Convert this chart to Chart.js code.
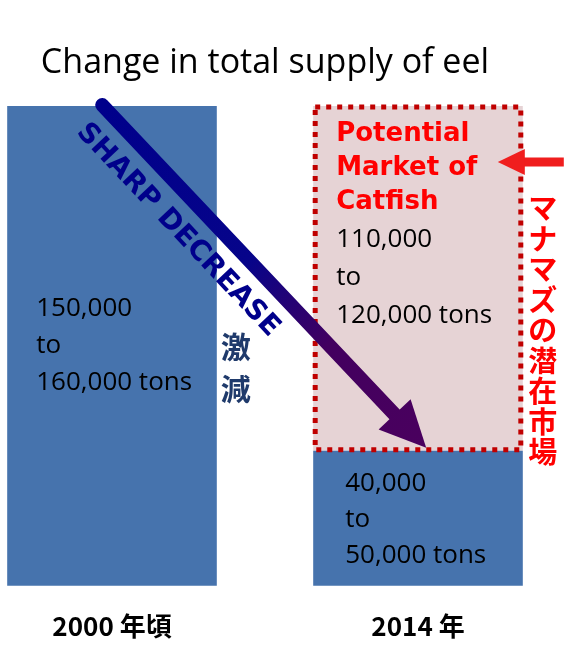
<!DOCTYPE html>
<html>
<head>
<meta charset="utf-8">
<script src="https://cdn.jsdelivr.net/npm/chart.js@4.4.1/dist/chart.umd.min.js"></script>
<style>
  html, body { margin: 0; padding: 0; background: #fff; }
  #wrap { width: 580px; height: 672px; }
</style>
</head>
<body>
<div id="wrap"><canvas id="myChart"></canvas></div>
<script>
// data
const chartTitle = 'Change in total supply of eel';
const years = ['2000 年頃', '2014 年'];
const eelSupply = [160000, 45000];
const catfishMarket = [null, 115000];
const eelText = [['150,000', 'to', '160,000 tons'], ['40,000', 'to', '50,000 tons']];
const catfishTitle = ['Potential', 'Market of', 'Catfish'];
const catfishText = ['110,000', 'to', '120,000 tons'];
const arrowText = 'SHARP DECREASE';
const arrowTextJa = ['激', '減'];
const sideTextJa = 'マナマズの潜在市場';

//PLUGIN PARA DIBUJAR EL TITULO, LAS NOTAS, FLECHAS Y EL BORDE PUNTEADO
const notes = {
  id: 'notes',
  afterDatasetsDraw(chart) {
    const c = chart.ctx;
    const eel = chart.getDatasetMeta(0).data;
    const cat = chart.getDatasetMeta(1).data[1];
    const b0 = eel[0], b1 = eel[1];
    const L0 = b0.x - b0.width / 2, R0 = b0.x + b0.width / 2;
    const L1 = b1.x - b1.width / 2, R1 = b1.x + b1.width / 2;

    c.save();
    // title
    c.fillStyle = '#000';
    c.font = '34px "Open Sans"';
    c.textAlign = 'center';
    c.textBaseline = 'alphabetic';
    c.fillText(chartTitle, (L0 + R1) / 2, b0.y - 33);

    // dotted border round the catfish box
    c.strokeStyle = '#C00000';
    c.lineWidth = 5;
    c.setLineDash([5, 6]);
    c.strokeRect(L1 + 2, cat.y + 1, b1.width - 4, cat.base - cat.y - 2);
    c.setLineDash([]);

    // numbers in bars
    c.fillStyle = '#000';
    c.font = '26px "Open Sans"';
    c.textAlign = 'left';
    eelText[0].forEach((t, i) => c.fillText(t, L0 + 29, b0.y + 210 + i * 37));
    eelText[1].forEach((t, i) => c.fillText(t, L1 + 32, b1.y + 40 + i * 36));
    catfishText.forEach((t, i) => c.fillText(t, L1 + 23, cat.y + 141 + i * 38));
    c.fillStyle = '#FF0000';
    c.font = 'bold 26px "DejaVu Sans"';
    catfishTitle.forEach((t, i) => c.fillText(t, L1 + 23, cat.y + 35 + i * 34));

    // big arrow
    const sx = L0 + 95, sy = b0.y - 1;
    const tx = L1 + 113, ty = b1.y - 3;
    const len = Math.hypot(tx - sx, ty - sy);
    const dx = (tx - sx) / len, dy = (ty - sy) / len;
    const head = 46, half = 22;
    const g = c.createLinearGradient(sx, sy, tx, ty);
    g.addColorStop(0, '#00008B');
    g.addColorStop(0.45, '#06048A');
    g.addColorStop(0.7, '#42005F');
    g.addColorStop(1, '#4A005E');
    c.strokeStyle = g;
    c.fillStyle = g;
    c.lineWidth = 14;
    c.lineCap = 'round';
    c.beginPath();
    c.moveTo(sx, sy);
    c.lineTo(tx - dx * head * 0.8, ty - dy * head * 0.8);
    c.stroke();
    const bx = tx - dx * head, by = ty - dy * head;
    c.beginPath();
    c.moveTo(tx, ty);
    c.lineTo(bx - dy * half, by + dx * half);
    c.lineTo(bx + dy * half, by - dx * half);
    c.closePath();
    c.fill();

    // SHARP DECREASE along the arrow
    c.save();
    c.translate(sx + dx * 143 - dy * 31, sy + dy * 143 + dx * 31);
    c.rotate(Math.atan2(dy, dx));
    c.fillStyle = '#00008B';
    c.font = 'bold 28px "DejaVu Sans"';
    c.textAlign = 'center';
    c.textBaseline = 'middle';
    c.fillText(arrowText, 0, 0);
    c.restore();

    // 激減
    c.fillStyle = '#1F3A6B';
    c.font = 'bold 30px "Noto Sans CJK JP"';
    c.textAlign = 'center';
    c.textBaseline = 'middle';
    arrowTextJa.forEach((t, i) => c.fillText(t, R0 + 19, b0.y + 241 + i * 42));

    // red arrow and side text
    const ay = cat.y + 56;
    c.strokeStyle = '#F01E1E';
    c.fillStyle = '#F01E1E';
    c.lineWidth = 9;
    c.lineCap = 'butt';
    c.beginPath();
    c.moveTo(R1 + 41, ay);
    c.lineTo(R1 - 2, ay);
    c.stroke();
    c.beginPath();
    c.moveTo(R1 - 25, ay);
    c.lineTo(R1 + 2, ay - 13);
    c.lineTo(R1 + 2, ay + 13);
    c.closePath();
    c.fill();

    c.fillStyle = '#FF0000';
    c.font = 'bold 29px "Noto Sans CJK JP"';
    [...sideTextJa].forEach((ch, i) => c.fillText(ch, R1 + 20, cat.y + 102 + i * 30.5));
    c.restore();
  }
};

const ctx = document.getElementById('myChart');

new Chart(ctx, {
  type: 'bar',
  data: {
    labels: years,
    datasets: [{
      label: 'Eel supply',
      data: eelSupply,
      backgroundColor: '#4673AD',
      borderWidth: 0,
      categoryPercentage: 1,
      barPercentage: 0.685,
      clip: false
    }, {
      label: 'Potential market of catfish',
      data: catfishMarket,
      backgroundColor: '#E6D3D5',
      borderWidth: 0,
      categoryPercentage: 1,
      barPercentage: 0.685,
      clip: false
    }]
  },
  options: {
    responsive: true,
    maintainAspectRatio: false,
    animation: false,
    layout: { padding: { left: 112, right: 162, top: 106, bottom: 13 } },
    plugins: {
      legend: { display: false },
      tooltip: { enabled: false },
      title: { display: false }
    },
    scales: {
      x: {
        stacked: true,
        offset: false,
        grid: { display: false },
        border: { display: false },
        ticks: {
          color: '#000',
          padding: 17,
          maxRotation: 0,
          font: { family: '"Noto Sans CJK JP"', size: 26, weight: 'bold' }
        }
      },
      y: {
        stacked: true,
        display: false,
        min: 0,
        max: 160000
      }
    }
  },
  plugins: [notes]
});
</script>
</body>
</html>
